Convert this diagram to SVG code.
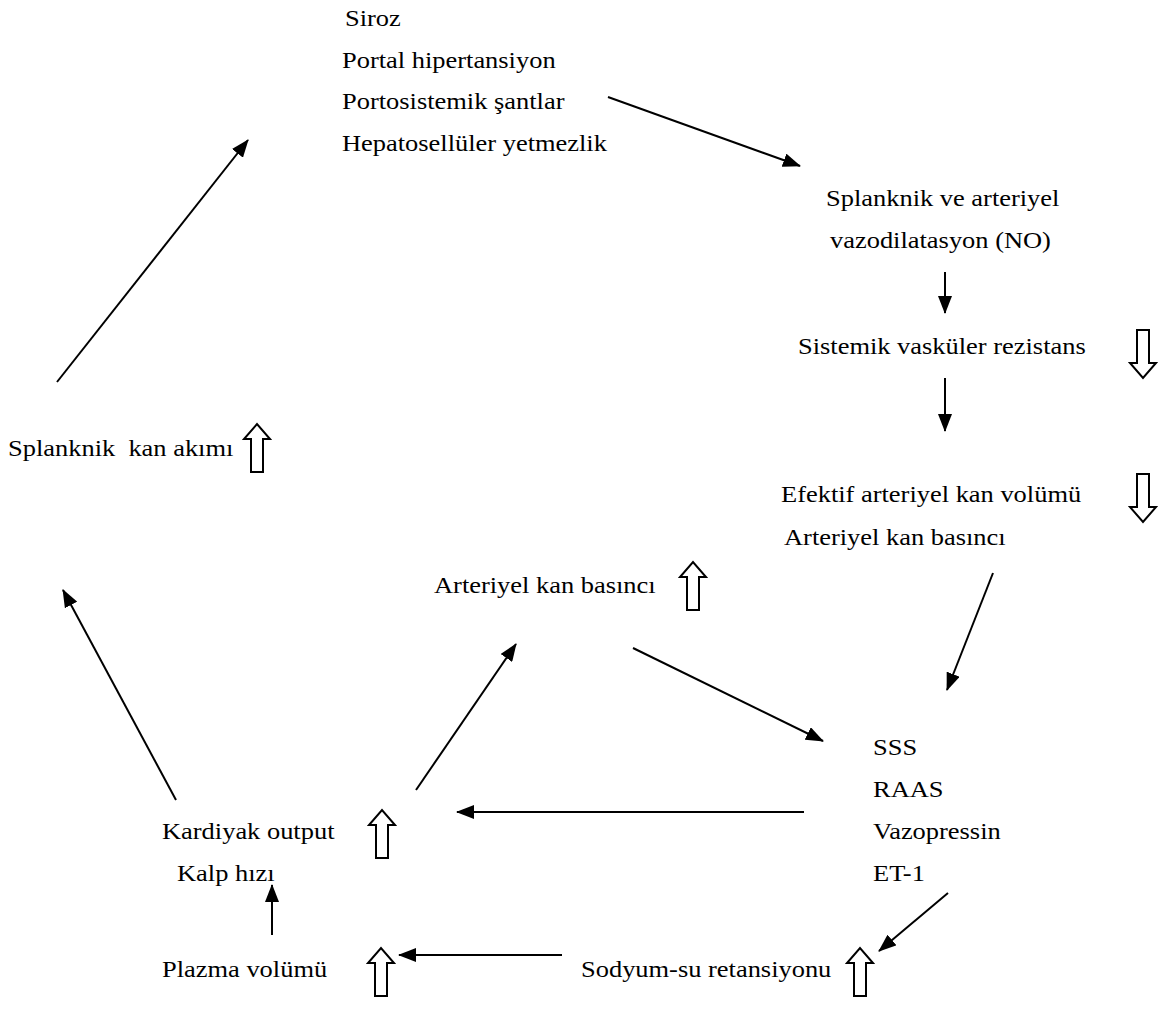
<svg xmlns="http://www.w3.org/2000/svg" width="1170" height="1014" viewBox="0 0 1170 1014">
<style>
text{font-family:"Liberation Serif","Times New Roman",serif;font-size:23px;fill:#000}
.c{stroke:#000;stroke-width:2;fill:none}
.h{fill:#fff;stroke:#000;stroke-width:2}
</style>
<defs>
<marker id="ab" markerWidth="18" markerHeight="14" refX="17" refY="7" orient="auto" markerUnits="userSpaceOnUse" viewBox="0 0 18 14">
<path d="M0,0 L18,7 L0,14 Z" fill="#000"/>
</marker>
<path id="down" d="M-6,0 L6,0 L6,33 L13,33 L0,48 L-13,33 L-6,33 Z"/>
<path id="up" d="M-6,48 L6,48 L6,15 L13,15 L0,0 L-13,15 L-6,15 Z"/>
</defs>
<rect width="1170" height="1014" fill="#fff"/>
<g id="n-siroz">
<text transform="translate(345,26) scale(1.15,1)">Siroz</text>
<text transform="translate(342,68) scale(1.15,1)">Portal hipertansiyon</text>
<text transform="translate(342,109) scale(1.15,1)">Portosistemik şantlar</text>
<text transform="translate(342,151) scale(1.15,1)">Hepatosellüler yetmezlik</text>
</g>
<g id="n-vazodilatasyon">
<text transform="translate(826,206) scale(1.15,1)">Splanknik ve arteriyel</text>
<text transform="translate(830,248) scale(1.15,1)">vazodilatasyon (NO)</text>
</g>
<g id="n-svr">
<text transform="translate(798,354) scale(1.15,1)">Sistemik vasküler rezistans</text>
<use href="#down" class="h" x="1143" y="330"/>
</g>
<g id="n-splanknik">
<text transform="translate(8,456) scale(1.15,1)">Splanknik&#160; kan akımı</text>
<use href="#up" class="h" x="257" y="424"/>
</g>
<g id="n-efektif">
<text transform="translate(781,502) scale(1.15,1)">Efektif arteriyel kan volümü</text>
<text transform="translate(784,545) scale(1.15,1)">Arteriyel kan basıncı</text>
<use href="#down" class="h" x="1143" y="474"/>
</g>
<g id="n-akb">
<text transform="translate(434,593) scale(1.15,1)">Arteriyel kan basıncı</text>
<use href="#up" class="h" x="693" y="562"/>
</g>
<g id="n-sss">
<text transform="translate(873,755) scale(1.15,1)">SSS</text>
<text transform="translate(873,797) scale(1.15,1)">RAAS</text>
<text transform="translate(873,839) scale(1.15,1)">Vazopressin</text>
<text transform="translate(873,881) scale(1.15,1)">ET-1</text>
</g>
<g id="n-kardiyak">
<text transform="translate(162,839) scale(1.15,1)">Kardiyak output</text>
<text transform="translate(177,881) scale(1.15,1)">Kalp hızı</text>
<use href="#up" class="h" x="382" y="810"/>
</g>
<g id="n-plazma">
<text transform="translate(162,977) scale(1.15,1)">Plazma volümü</text>
<use href="#up" class="h" x="381" y="948"/>
</g>
<g id="n-sodyum">
<text transform="translate(581,977) scale(1.15,1)">Sodyum-su retansiyonu</text>
<use href="#up" class="h" x="860" y="948"/>
</g>
<g id="connectors" class="c">
<line x1="57" y1="382" x2="248" y2="140" marker-end="url(#ab)"/>
<line x1="608" y1="97" x2="800" y2="166" marker-end="url(#ab)"/>
<line x1="945" y1="272" x2="945" y2="313" marker-end="url(#ab)"/>
<line x1="945" y1="378" x2="945" y2="431" marker-end="url(#ab)"/>
<line x1="993" y1="573" x2="947" y2="690" marker-end="url(#ab)"/>
<line x1="633" y1="648" x2="823" y2="741" marker-end="url(#ab)"/>
<line x1="804" y1="812" x2="457" y2="812" marker-end="url(#ab)"/>
<line x1="416" y1="790" x2="516" y2="644" marker-end="url(#ab)"/>
<line x1="176" y1="800" x2="63" y2="590" marker-end="url(#ab)"/>
<line x1="948" y1="893" x2="879" y2="951" marker-end="url(#ab)"/>
<line x1="562" y1="955" x2="399" y2="955" marker-end="url(#ab)"/>
<line x1="272" y1="935" x2="272" y2="885" marker-end="url(#ab)"/>
</g>
</svg>
